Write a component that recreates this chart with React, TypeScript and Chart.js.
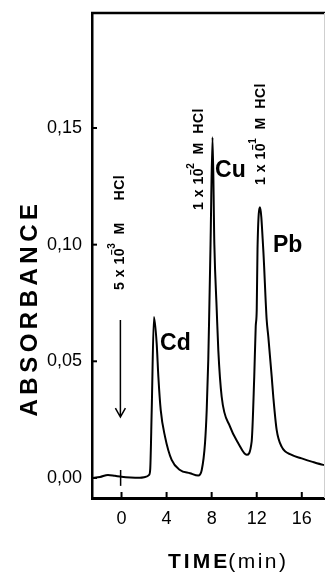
import React, { useEffect, useRef } from 'react';
import { Chart, registerables } from 'chart.js';

Chart.register(...registerables);

// Time (min) and absorbance of the recorded trace
const timeMin = [
  -2.62, -1.91, -1.2, -0.58, 0, 0.8, 1.64, 2.1, 2.45, 2.55, 2.68, 2.88, 3.12, 3.27, 3.48, 3.86,
  4.45, 5.19, 6.08, 6.81, 7.12, 7.41, 7.56, 7.7, 7.79, 7.9, 8.08, 8.24, 8.45, 8.59, 8.89, 9.63,
  10.36, 11.11, 11.55, 11.78, 11.91, 12.0, 12.07, 12.29, 12.58, 12.88, 13.03, 13.33, 13.47,
  13.77, 14.21, 15.1, 15.99, 16.88, 17.91, 18.06,
];
const absorbance = [
  0.0, 0.0004, 0.0013, 0.0009, 0.0005, 0.0002, 0.0001, 0.0004, 0.0013, 0.004, 0.029, 0.069,
  0.0577, 0.0434, 0.0291, 0.0177, 0.0077, 0.0034, 0.002, 0.001, 0.0034, 0.0149, 0.029, 0.0506,
  0.072, 0.1, 0.146, 0.1, 0.072, 0.0548, 0.0348, 0.022, 0.0149, 0.0099, 0.0156, 0.0434, 0.0648,
  0.072, 0.098, 0.116, 0.098, 0.068, 0.0605, 0.0434, 0.0348, 0.0206, 0.0134, 0.0099, 0.0084,
  0.007, 0.0056, 0.0055,
];

const xTicks = [0, 4, 8, 12, 16];
const yTicks = [0, 0.05, 0.1, 0.15];
const xRange = [-2.62, 18.06];
const yRange = [-0.0086, 0.1993];

// Peak labels
const peakNames = ['Cd', 'Cu', 'Pb'];
const peakLabelTimes = [3.42, 8.3, 13.44];
const peakLabelLevels = [0.0549, 0.129, 0.0969];

// Eluent annotations (rotated)
const hclMantissa = ['5 x 10', '1 x 10', '1 x 10'];
const hclExponent = ['\u22123', '\u22122', '\u22121'];
const hclRest = ['M     HCl', 'M  HCl', 'M  HCl'];
const hclTimes = [0.18, 7.23, 12.74];
const hclLevels = [0.0806, 0.1149, 0.1256];

// Injection arrow and mark
const arrowTime = -0.1;
const arrowFromTo = [0.0677, 0.0261];
const injectionTime = -0.08;
const injectionMark = [-0.0034, 0.0034];

const FONT = '"Liberation Sans", Arial, Helvetica, sans-serif';

const overlayPlugin = {
  id: 'overlay',
  afterDraw(chart: any) {
    const ctx: CanvasRenderingContext2D = chart.ctx;
    const xs = chart.scales.x;
    const ys = chart.scales.y;
    const area = chart.chartArea;
    ctx.save();
    ctx.strokeStyle = '#000';
    ctx.fillStyle = '#000';
    ctx.lineCap = 'butt';

    // top frame
    ctx.lineWidth = 2.5;
    ctx.beginPath();
    ctx.moveTo(area.left - 1, area.top);
    ctx.lineTo(area.right, area.top);
    ctx.stroke();
    // faint right frame
    ctx.strokeStyle = '#cfcfcf';
    ctx.lineWidth = 1;
    ctx.beginPath();
    ctx.moveTo(area.right - 0.5, area.top);
    ctx.lineTo(area.right - 0.5, area.bottom);
    ctx.stroke();
    ctx.strokeStyle = '#000';

    // inward ticks
    ctx.lineWidth = 2;
    xTicks.forEach((v) => {
      const px = xs.getPixelForValue(v);
      ctx.beginPath();
      ctx.moveTo(px, area.bottom);
      ctx.lineTo(px, area.bottom - 6);
      ctx.stroke();
    });
    yTicks.forEach((v) => {
      const py = ys.getPixelForValue(v);
      ctx.beginPath();
      ctx.moveTo(area.left, py);
      ctx.lineTo(area.left + 5, py);
      ctx.stroke();
    });

    // injection arrow
    const ax = xs.getPixelForValue(arrowTime);
    const ay0 = ys.getPixelForValue(arrowFromTo[0]);
    const ay1 = ys.getPixelForValue(arrowFromTo[1]);
    ctx.lineWidth = 1.5;
    ctx.beginPath();
    ctx.moveTo(ax, ay0);
    ctx.lineTo(ax, ay1);
    ctx.moveTo(ax - 5, ay1 - 9);
    ctx.lineTo(ax, ay1);
    ctx.lineTo(ax + 5, ay1 - 9);
    ctx.stroke();

    // injection mark on baseline
    const ix = xs.getPixelForValue(injectionTime);
    ctx.lineWidth = 1.5;
    ctx.beginPath();
    ctx.moveTo(ix, ys.getPixelForValue(injectionMark[0]));
    ctx.lineTo(ix, ys.getPixelForValue(injectionMark[1]));
    ctx.stroke();

    // peak labels
    ctx.font = `bold 23px ${FONT}`;
    ctx.textBaseline = 'alphabetic';
    ctx.textAlign = 'left';
    peakNames.forEach((n, i) => {
      ctx.fillText(n, xs.getPixelForValue(peakLabelTimes[i]), ys.getPixelForValue(peakLabelLevels[i]));
    });

    // rotated HCl annotations
    hclMantissa.forEach((m, i) => {
      const px = xs.getPixelForValue(hclTimes[i]);
      const py = ys.getPixelForValue(hclLevels[i]);
      ctx.save();
      ctx.translate(px, py);
      ctx.rotate(-Math.PI / 2);
      (ctx as any).letterSpacing = '0.5px';
      ctx.font = `bold 14px ${FONT}`;
      ctx.fillText(m, 0, 0);
      let cx = ctx.measureText(m).width;
      ctx.font = `bold 10px ${FONT}`;
      ctx.fillText(hclExponent[i], cx - 7, -9);
      cx += ctx.measureText(hclExponent[i]).width - 7 + 8;
      ctx.font = `bold 14px ${FONT}`;
      ctx.fillText(hclRest[i], cx, 0);
      ctx.restore();
    });

    // y title
    ctx.save();
    ctx.translate(37, 308);
    ctx.rotate(-Math.PI / 2);
    ctx.font = `bold 24px ${FONT}`;
    (ctx as any).letterSpacing = '4.5px';
    ctx.textAlign = 'center';
    ctx.fillText('ABSORBANCE', 0, 0);
    ctx.restore();

    // x title
    ctx.save();
    ctx.textAlign = 'left';
    ctx.font = `bold 21px ${FONT}`;
    (ctx as any).letterSpacing = '3px';
    ctx.fillText('TIME', 168, 568);
    const w = ctx.measureText('TIME').width;
    ctx.font = `21px ${FONT}`;
    (ctx as any).letterSpacing = '2.5px';
    ctx.fillText('(min)', 168 + w - 2, 568);
    ctx.restore();

    ctx.restore();
  },
};

export default function App() {
  const ref = useRef<HTMLCanvasElement>(null);
  useEffect(() => {
    if (!ref.current) return;
    const tickFont = { family: FONT, size: 18 };
    const chart = new Chart(ref.current, {
      type: 'line',
      data: {
        datasets: [
          {
            data: timeMin.map((t, i) => ({ x: t, y: absorbance[i] })),
            borderColor: '#000',
            borderWidth: 2,
            pointRadius: 0,
            fill: false,
            tension: 0,
            cubicInterpolationMode: 'monotone',
          },
        ],
      },
      options: {
        animation: false,
        responsive: false,
        maintainAspectRatio: false,
        layout: { autoPadding: false, padding: { top: 13, right: 0, left: 0, bottom: 0 } },
        plugins: { legend: { display: false }, tooltip: { enabled: false }, title: { display: false } },
        scales: {
          x: {
            type: 'linear',
            min: xRange[0],
            max: xRange[1],
            grid: { display: false, drawTicks: false },
            border: { display: true, color: '#000', width: 3 },
            ticks: { font: tickFont, color: '#000', padding: 10, maxRotation: 0 },
            afterBuildTicks: (s: any) => {
              s.ticks = xTicks.map((v) => ({ value: v }));
            },
            afterFit: (s: any) => {
              s.height = 76;
              s.paddingLeft = 0;
              s.paddingRight = 0;
            },
          },
          y: {
            type: 'linear',
            min: yRange[0],
            max: yRange[1],
            grid: { display: false, drawTicks: false },
            border: { display: true, color: '#000', width: 2.5 },
            ticks: {
              font: tickFont,
              color: '#000',
              padding: 10,
              callback: (v: any) => Number(v).toFixed(2).replace('.', ','),
            },
            afterBuildTicks: (s: any) => {
              s.ticks = yTicks.map((v) => ({ value: v }));
            },
            afterFit: (s: any) => {
              s.width = 92;
              s.paddingTop = 0;
              s.paddingBottom = 0;
            },
          },
        },
      },
      plugins: [overlayPlugin],
    } as any);
    return () => chart.destroy();
  }, []);
  return (
    <div style={{ position: 'absolute', left: 0, top: 0, width: 325, height: 574, background: '#fff' }}>
      <canvas ref={ref} width={325} height={574} style={{ display: 'block' }} />
    </div>
  );
}
